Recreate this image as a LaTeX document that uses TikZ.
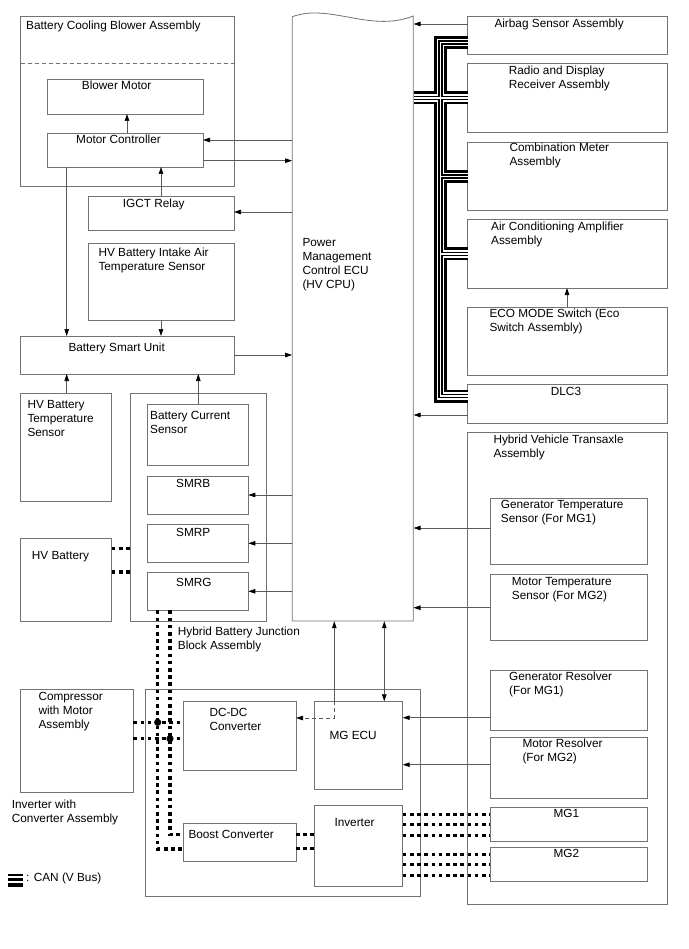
\documentclass[tikz,border=0pt]{standalone}
\usepackage{fontspec}
\setmainfont{Liberation Sans}
\usetikzlibrary{arrows.meta,fit}
\begin{document}
\begin{tikzpicture}[x=1pt,y=-1pt,
  box/.style={draw=black!55, line width=0.8pt, inner sep=0pt, outer sep=0pt},
  txt/.style={anchor=base west, inner sep=0pt, font=\fontsize{11.8}{14}\selectfont},
  conn/.style={draw=black!65, line width=0.7pt},
  arr/.style={conn, -{Triangle[length=7pt,width=4.5pt,color=black]}},
  biarr/.style={conn, {Triangle[length=7pt,width=4.5pt,color=black]}-{Triangle[length=7pt,width=4.5pt,color=black]}},
  hvdot/.style={line width=3.4pt, dash pattern=on 3.7pt off 3.5pt},
]
\useasboundingbox[fill=white] (0,0) rectangle (688,949);

% ---------- boxes ----------
\node[box, fit={(20.7,16) (234,186)}] (bcb) {};
\draw[draw=black!55, line width=0.8pt, dash pattern=on 4pt off 3pt] (bcb.west |- 0,63) -- (bcb.east |- 0,63);
\node[box, fit={(47.7,79) (203,114)}] (bm) {};
\node[box, fit={(47.7,133) (203,167)}] (mc) {};
\node[box, fit={(88,196) (234,230)}] (igct) {};
\node[box, fit={(88,243) (234,320)}] (iat) {};
\node[box, fit={(20.7,336) (234,374)}] (bsu) {};
\node[box, fit={(20.7,393) (111.7,501.7)}] (hvbt) {};
\node[box, fit={(130,393.3) (266.7,621)}] (jb) {};
\node[box, fit={(147.7,404.3) (248.3,465.3)}] (bcs) {};
\node[box, fit={(147.7,476) (248.3,514)}] (smrb) {};
\node[box, fit={(147.7,524) (248.3,562.3)}] (smrp) {};
\node[box, fit={(147.7,572.3) (248.3,610.3)}] (smrg) {};
\node[box, fit={(20.7,538) (111.7,621)}] (hvb) {};
\node[box, fit={(20.7,689) (133.3,792)}] (comp) {};
\node[box, fit={(145.7,689) (420.3,896.7)}] (icv) {};
\node[box, fit={(183.3,701.3) (296,770)}] (dcdc) {};
\node[box, fit={(183.3,823.3) (296,861.3)}] (boost) {};
\node[box, fit={(314,701.3) (402.7,789.3)}] (mgecu) {};
\node[box, fit={(314,805.3) (402.7,886)}] (inv) {};
\node[box, fit={(467.7,16) (667,54)}] (airbag) {};
\node[box, fit={(467.7,63) (667,132)}] (radio) {};
\node[box, fit={(467.7,142) (667,210)}] (cmeter) {};
\node[box, fit={(467.7,219) (667,288)}] (acamp) {};
\node[box, fit={(467.7,307) (667,375)}] (eco) {};
\node[box, fit={(467.7,384) (667,423)}] (dlc) {};
\node[box, fit={(467.7,432) (667,904)}] (hvt) {};
\node[box, fit={(490,498) (647.7,564)}] (gts) {};
\node[box, fit={(490,574) (647.7,640)}] (mts) {};
\node[box, fit={(490,670) (647.7,730)}] (gres) {};
\node[box, fit={(490,737) (647.7,798)}] (mres) {};
\node[box, fit={(490,807.7) (647.7,841.7)}] (mg1) {};
\node[box, fit={(490,847) (647.7,881.7)}] (mg2) {};

% Power Management Control ECU (wavy top)
\node[inner sep=0pt, fit={(292.3,16) (413.3,621)}] (ecu) {};
\draw[draw=black!55, line width=0.8pt] (292.3,16.7) .. controls (330,3) and (370,33) .. (413.3,16) -- (413.3,621) -- (292.3,621) -- cycle;

% ---------- texts ----------
\node[txt] at (26,30) {Battery Cooling Blower Assembly};
\node[txt] at (81.7,90) {Blower Motor};
\node[txt] at (76,144) {Motor Controller};
\node[txt] at (122.7,208) {IGCT Relay};
\node[txt] at (98.3,256.7) {HV Battery Intake Air};
\node[txt] at (98.3,270.7) {Temperature Sensor};
\node[txt] at (68.3,351.5) {Battery Smart Unit};
\node[txt] at (27.3,408.5) {HV Battery};
\node[txt] at (27.3,422.5) {Temperature};
\node[txt] at (27.3,436.5) {Sensor};
\node[txt] at (150,419) {Battery Current};
\node[txt] at (150,433) {Sensor};
\node[txt] at (176,487.5) {SMRB};
\node[txt] at (176,536) {SMRP};
\node[txt] at (176,586.7) {SMRG};
\node[txt] at (31.7,559) {HV Battery};
\node[txt] at (177.7,635) {Hybrid Battery Junction};
\node[txt] at (177.7,649) {Block Assembly};
\node[txt] at (38.3,700) {Compressor};
\node[txt] at (38.3,714) {with Motor};
\node[txt] at (38.3,728) {Assembly};
\node[txt] at (209.3,716) {DC-DC};
\node[txt] at (209.3,730) {Converter};
\node[txt] at (11.7,808.3) {Inverter with};
\node[txt] at (11.7,822.3) {Converter Assembly};
\node[txt] at (188.3,838.5) {Boost Converter};
\node[txt] at (26,881.7) {: CAN (V Bus)};
\node[txt] at (329.3,739) {MG ECU};
\node[txt] at (334.3,826.7) {Inverter};
\node[txt] at (302.3,246.7) {Power};
\node[txt] at (302.3,260.7) {Management};
\node[txt] at (302.3,274.7) {Control ECU};
\node[txt] at (302.3,288.7) {(HV CPU)};
\node[txt] at (494.3,27.3) {Airbag Sensor Assembly};
\node[txt] at (508.7,75) {Radio and Display};
\node[txt] at (508.7,89) {Receiver Assembly};
\node[txt] at (509.3,151.7) {Combination Meter};
\node[txt] at (509.3,165.7) {Assembly};
\node[txt] at (491,230.7) {Air Conditioning Amplifier};
\node[txt] at (491,244.7) {Assembly};
\node[txt] at (489.3,317.7) {ECO MODE Switch (Eco};
\node[txt] at (489.3,331.7) {Switch Assembly)};
\node[txt] at (550.7,395.7) {DLC3};
\node[txt] at (493.3,443.3) {Hybrid Vehicle Transaxle};
\node[txt] at (493.3,457.3) {Assembly};
\node[txt] at (500.7,508.3) {Generator Temperature};
\node[txt] at (500.7,522.3) {Sensor (For MG1)};
\node[txt] at (511.7,585) {Motor Temperature};
\node[txt] at (511.7,599) {Sensor (For MG2)};
\node[txt] at (509,680) {Generator Resolver};
\node[txt] at (509,694) {(For MG1)};
\node[txt] at (522.3,747.7) {Motor Resolver};
\node[txt] at (522.3,761.7) {(For MG2)};
\node[txt] at (553.3,817.7) {MG1};
\node[txt] at (553.3,857.7) {MG2};

% ---------- connectors ----------
\draw[arr] (mc.north -| 127,0) -- (bm.south -| 127,0);
\draw[arr] (ecu.west |- 0,140) -- (mc.east |- 0,140);
\draw[arr] (mc.east |- 0,160.7) -- (ecu.west |- 0,160.7);
\draw[arr] (ecu.west |- 0,212) -- (igct.east |- 0,212);
\draw[arr] (igct.north -| 161,0) -- (mc.south -| 161,0);
\draw[arr] (mc.south -| 66.7,0) -- (bsu.north -| 66.7,0);
\draw[arr] (iat.south -| 161,0) -- (bsu.north -| 161,0);
\draw[arr] (bsu.east |- 0,355) -- (ecu.west |- 0,355);
\draw[arr] (hvbt.north -| 66.7,0) -- (bsu.south -| 66.7,0);
\draw[arr] (bcs.north -| 198.3,0) -- (bsu.south -| 198.3,0);
\draw[arr] (ecu.west |- 0,495) -- (smrb.east |- 0,495);
\draw[arr] (ecu.west |- 0,543.3) -- (smrp.east |- 0,543.3);
\draw[arr] (ecu.west |- 0,591.3) -- (smrg.east |- 0,591.3);
\draw[arr] (airbag.west |- 0,24) -- (ecu.east |- 0,24);
\draw[arr] (eco.north -| 567,0) -- (acamp.south -| 567,0);
\draw[arr] (dlc.west |- 0,415) -- (ecu.east |- 0,415);
\draw[arr] (gts.west |- 0,528) -- (ecu.east |- 0,528);
\draw[arr] (mts.west |- 0,607.7) -- (ecu.east |- 0,607.7);
\draw[arr] (gres.west |- 0,717.7) -- (mgecu.east |- 0,717.7);
\draw[arr] (mres.west |- 0,764.7) -- (mgecu.east |- 0,764.7);
\draw[arr] (mgecu.north -| 334.3,0) -- (ecu.south -| 334.3,0);
\draw[conn, dash pattern=on 4pt off 3pt, -{Triangle[length=7pt,width=4.5pt,color=black]}] (mgecu.north -| 334.3,0) -- (334.3,718) -- (dcdc.east |- 0,718);
\draw[biarr] (ecu.south -| 384.3,0) -- (mgecu.north -| 384.3,0);

% ---------- high voltage (dotted) ----------
\draw[hvdot] (hvb.east |- 0,548.3) -- (jb.west |- 0,548.3);
\draw[hvdot] (hvb.east |- 0,572) -- (jb.west |- 0,572);
\draw[hvdot] (smrg.south -| 157.7,0) -- (157.7,849) -- (boost.west |- 0,849);
\draw[hvdot] (smrg.south -| 170,0) -- (170,834.3) -- (boost.west |- 0,834.3);
\draw[hvdot] (comp.east |- 0,722.3) -- (dcdc.west |- 0,722.3);
\draw[hvdot] (comp.east |- 0,738.7) -- (dcdc.west |- 0,738.7);
\fill (157.7,722.3) circle (3.6pt);
\fill (170,738.7) circle (3.6pt);
\draw[hvdot] (boost.east |- 0,834.7) -- (inv.west |- 0,834.7);
\draw[hvdot] (boost.east |- 0,848.3) -- (inv.west |- 0,848.3);
\foreach \yy in {814.3,824.7,835.3} {\draw[hvdot] (inv.east |- 0,\yy) -- (mg1.west |- 0,\yy);}
\foreach \yy in {854.3,864.7,875.3} {\draw[hvdot] (inv.east |- 0,\yy) -- (mg2.west |- 0,\yy);}

% ---------- CAN bus ----------
\foreach \w/\c in {13/black,7.2/white,4.2/black,1.6/white} {
  \draw[line width=\w pt, draw=\c, line cap=butt, line join=miter]
    (airbag.west |- 0,42.5) -- (440.5,42.5) -- (440.5,396) -- (dlc.west |- 0,396)
    (ecu.east |- 0,98) -- (radio.west |- 0,98)
    (440.5,176.5) -- (cmeter.west |- 0,176.5)
    (440.5,254) -- (acamp.west |- 0,254);
}
% legend symbol
\fill (8,874) rectangle (23,875.7);
\fill (8,878.3) rectangle (23,880.7);
\fill (8,883.3) rectangle (23,887.3);
\end{tikzpicture}
\end{document}
